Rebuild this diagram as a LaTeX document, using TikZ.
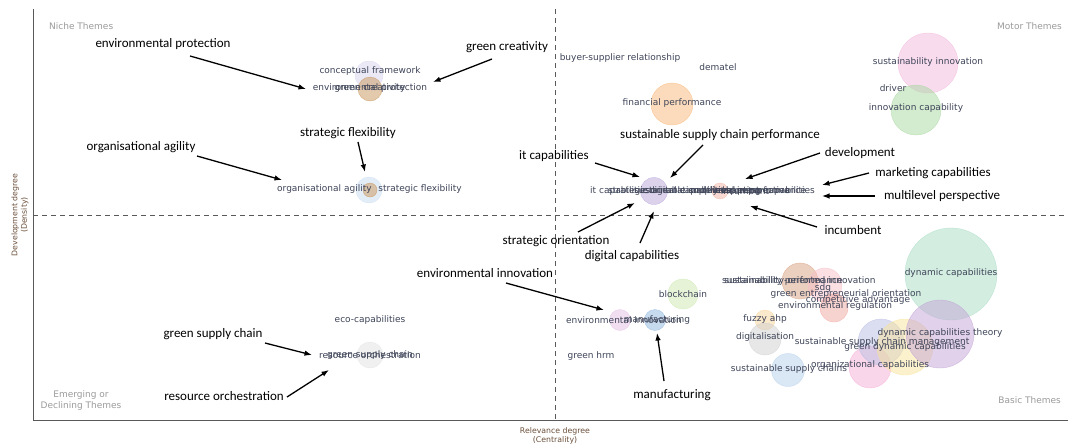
\documentclass[tikz,border=0pt]{standalone}
\usepackage{fontspec}
\setmainfont{Carlito}
\newfontfamily\lblfont{DejaVu Sans}
\usetikzlibrary{arrows.meta}
\definecolor{lblc}{HTML}{3E4458}
\definecolor{axc}{HTML}{6B4F3A}
\definecolor{quadc}{HTML}{9A9A9A}
\definecolor{cLav}{HTML}{D8D4EE}
\definecolor{cTan}{HTML}{C8955A}
\definecolor{cLBlue}{HTML}{C8DCF0}
\definecolor{cOrange}{HTML}{F7B878}
\definecolor{cPurple}{HTML}{B9A6DA}
\definecolor{cSalmon}{HTML}{F4B5A5}
\definecolor{cPink}{HTML}{F2B8DC}
\definecolor{cGreen}{HTML}{A8D8A0}
\definecolor{cGray}{HTML}{E2E2E2}
\definecolor{cPP}{HTML}{E3C0E3}
\definecolor{cBlue}{HTML}{8FB7DF}
\definecolor{cLime}{HTML}{CDE8B0}
\definecolor{cMint}{HTML}{A8DCC4}
\definecolor{cDct}{HTML}{C3A3D6}
\definecolor{cYellow}{HTML}{F8E39A}
\definecolor{cLB}{HTML}{B8BDE3}
\definecolor{cPink2}{HTML}{F5AED6}
\definecolor{cSsc}{HTML}{B5CFEA}
\definecolor{cDGray}{HTML}{CFCFCF}
\definecolor{cPeach}{HTML}{F8D49A}
\definecolor{cBrown}{HTML}{D8A080}
\definecolor{cRose}{HTML}{F7C0C8}
\definecolor{cRed}{HTML}{F0A8A0}
\begin{document}
\begin{tikzpicture}[x=1pt,y=-1pt,
  ann/.style={font=\fontsize{13}{15}\selectfont, text=black, inner sep=0pt},
  lbl/.style={font=\lblfont\fontsize{9}{10}\selectfont, text=lblc, inner sep=0pt},
  quad/.style={font=\lblfont\fontsize{9}{11}\selectfont, text=quadc, inner sep=0pt, align=center},
  axl/.style={font=\lblfont\fontsize{7.8}{9.5}\selectfont, text=axc, inner sep=0pt, align=center},
  bub/.style={circle, fill=#1, fill opacity=0.5, draw=#1, draw opacity=0.7, line width=0.4pt, inner sep=0pt},
  arr/.style={-{Latex[length=7.5pt,width=5.5pt]}, line width=1.3pt, black},
  quadline/.style={dashed, dash pattern=on 5pt off 4pt, line width=0.8pt, black!65},
  axisline/.style={line width=1pt, black!65}]
\useasboundingbox (0,0) rectangle (1068,445);
% axes
\coordinate (ytop) at (33,9);
\coordinate (orig) at (33,420);
\coordinate (xend) at (1068,420);
\draw[axisline] (ytop) -- (orig) -- (xend);
\coordinate (vtop) at (555,9);
\coordinate (vbot) at (555,420);
\coordinate (hl) at (33,215);
\coordinate (hr) at (1068,215);
\draw[quadline] (vtop) -- (vbot);
\draw[quadline] (hl) -- (hr);
% axis labels
\node[axl] (xlab) at (555,436) {Relevance degree\\(Centrality)};
\node[axl, rotate=90] (ylab) at (20,215) {Development degree\\(Density)};
% quadrant labels
\node[quad, anchor=west] (niche) at (49,26) {Niche Themes};
\node[quad, anchor=east] (motor) at (1062,26) {Motor Themes};
\node[quad] (emerg) at (81,401) {Emerging or\\Declining Themes};
\node[quad, anchor=east] (basic) at (1061,400) {Basic Themes};
% bubbles
\node[bub=cLav, minimum size=28pt] (b1) at (369,75) {};
\node[bub=cTan, minimum size=24pt] (b2) at (370,89) {};
\node[bub=cLBlue, minimum size=26pt] (b3) at (369,190) {};
\node[bub=cTan, minimum size=14pt] (b4) at (370,190) {};
\node[bub=cOrange, minimum size=42pt] (b5) at (672,104) {};
\node[bub=cPurple, minimum size=27pt] (b6) at (654,191) {};
\node[bub=cSalmon, minimum size=16pt] (b7) at (720,191) {};
\node[bub=cPink, minimum size=60pt] (b8) at (928,63) {};
\node[bub=cGreen, minimum size=50pt] (b9) at (916,110) {};
\node[bub=cGray, minimum size=26pt] (b10) at (370,355) {};
\node[bub=cPP, minimum size=21pt] (b11) at (620,320) {};
\node[bub=cBlue, minimum size=21pt] (b12) at (655,320) {};
\node[bub=cLime, minimum size=30pt] (b13) at (683,294) {};
\node[bub=cMint, minimum size=92pt] (b14) at (951,274) {};
\node[bub=cBrown, minimum size=36pt] (b15) at (800,281) {};
\node[bub=cRose, minimum size=34pt] (b16) at (825,285) {};
\node[bub=cRed, minimum size=28pt] (b17) at (834,308) {};
\node[bub=cPeach, minimum size=20pt] (b18) at (765,320) {};
\node[bub=cDGray, minimum size=32pt] (b19) at (765,339) {};
\node[bub=cSsc, minimum size=33pt] (b20) at (788,370) {};
\node[bub=cPink2, minimum size=42pt] (b21) at (870,367) {};
\node[bub=cLB, minimum size=46pt] (b22) at (881,342) {};
\node[bub=cYellow, minimum size=56pt] (b23) at (905,347) {};
\node[bub=cDct, minimum size=68pt] (b24) at (940,334) {};
% small labels: niche quadrant
\node[lbl] (l1) at (370,71) {conceptual framework};
\node[lbl] (l2) at (370,88) {environmental protection};
\node[lbl] (l3) at (370,88) {green creativity};
\node[lbl, anchor=west] (l4) at (277,189) {organisational agility};
\node[lbl, anchor=east] (l5) at (462,189) {strategic flexibility};
% motor quadrant
\node[lbl] (l8) at (620,58) {buyer-supplier relationship};
\node[lbl] (l9) at (718,67) {dematel};
\node[lbl] (l10) at (672,103) {financial performance};
\node[lbl] (l11) at (928,62) {sustainability innovation};
\node[lbl] (l12) at (893,88) {driver};
\node[lbl] (l13) at (916,108) {innovation capability};
\node[lbl, anchor=west] (l14) at (590,191) {it capabilities};
\node[lbl, anchor=west] (l15) at (608,191) {strategic orientation};
\node[lbl] (l16) at (720,191) {sustainable supply chain performance};
\node[lbl] (l17) at (690,191) {digital capabilities};
\node[lbl] (l18) at (730,191) {development};
\node[lbl] (l19) at (745,191) {incumbent};
\node[lbl] (l20) at (740,191) {multilevel perspective};
\node[lbl, anchor=east] (l21) at (815,191) {marketing capabilities};
% emerging quadrant
\node[lbl] (l22) at (370,320) {eco-capabilities};
\node[lbl] (l23) at (370,355) {green supply chain};
\node[lbl] (l24) at (370,355) {resource orchestration};
% basic quadrant
\node[lbl] (l25) at (683,294) {blockchain};
\node[lbl] (l26) at (624,320) {environmental innovation};
\node[lbl] (l27) at (657,320) {manufacturing};
\node[lbl] (l28) at (591,356) {green hrm};
\node[lbl] (l29) at (951,273) {dynamic capabilities};
\node[lbl] (l30) at (800,281) {sustainability-oriented innovation};
\node[lbl, anchor=west] (l31) at (722,281) {sustainability performance};
\node[lbl] (l32) at (823,288) {sdg};
\node[lbl] (l33) at (846,294) {green entrepreneurial orientation};
\node[lbl] (l34) at (858,300) {competitive advantage};
\node[lbl] (l35) at (835,306) {environmental regulation};
\node[lbl] (l36) at (765,319) {fuzzy ahp};
\node[lbl] (l37) at (765,337) {digitalisation};
\node[lbl] (l38) at (940,333) {dynamic capabilities theory};
\node[lbl] (l39) at (882,342) {sustainable supply chain management};
\node[lbl] (l40) at (905,347) {green dynamic capabilities};
\node[lbl] (l41) at (870,365) {organizational capabilities};
\node[lbl] (l42) at (789,369) {sustainable supply chains};
% annotations
\node[ann] (a1) at (163,44) {environmental protection};
\node[ann] (a2) at (507,47) {green creativity};
\node[ann] (a3) at (348,133) {strategic flexibility};
\node[ann] (a4) at (141,147) {organisational agility};
\node[ann] (a5) at (720,135) {sustainable supply chain performance};
\node[ann] (a6) at (554,156) {it capabilities};
\node[ann] (a7) at (860,153) {development};
\node[ann] (a8) at (933,173) {marketing capabilities};
\node[ann] (a9) at (942,196) {multilevel perspective};
\node[ann] (a10) at (853,230) {incumbent};
\node[ann] (a11) at (556,241) {strategic orientation};
\node[ann] (a12) at (632,256) {digital capabilities};
\node[ann] (a13) at (485,273) {environmental innovation};
\node[ann] (a14) at (213,334) {green supply chain};
\node[ann] (a15) at (224,396) {resource orchestration};
\node[ann] (a16) at (672,395) {manufacturing};
% arrow coordinates
\coordinate (s1) at (190,56);   \coordinate (e1) at (306,89);
\coordinate (s2) at (492,59);   \coordinate (e2) at (433,82);
\coordinate (s3) at (358,142);  \coordinate (e3) at (365,172);
\coordinate (s4) at (197,156);  \coordinate (e4) at (282,180);
\coordinate (s5) at (703,145);  \coordinate (e5) at (670,178);
\coordinate (s6) at (595,163);  \coordinate (e6) at (640,177);
\coordinate (s7) at (820,153);  \coordinate (e7) at (745,179);
\coordinate (s8) at (869,173);  \coordinate (e8) at (822,185);
\coordinate (s9) at (875,196);  \coordinate (e9) at (822,196);
\coordinate (s10) at (817,227); \coordinate (e10) at (750,206);
\coordinate (s11) at (578,232); \coordinate (e11) at (635,203);
\coordinate (s12) at (640,243); \coordinate (e12) at (654,211);
\coordinate (s13) at (506,283); \coordinate (e13) at (604,310);
\coordinate (s14) at (265,343); \coordinate (e14) at (312,355);
\coordinate (s15) at (287,397); \coordinate (e15) at (329,370);
\coordinate (s16) at (664,381); \coordinate (e16) at (657,333);
\foreach \i in {1,...,16} { \draw[arr] (s\i) -- (e\i); }
\end{tikzpicture}
\end{document}
